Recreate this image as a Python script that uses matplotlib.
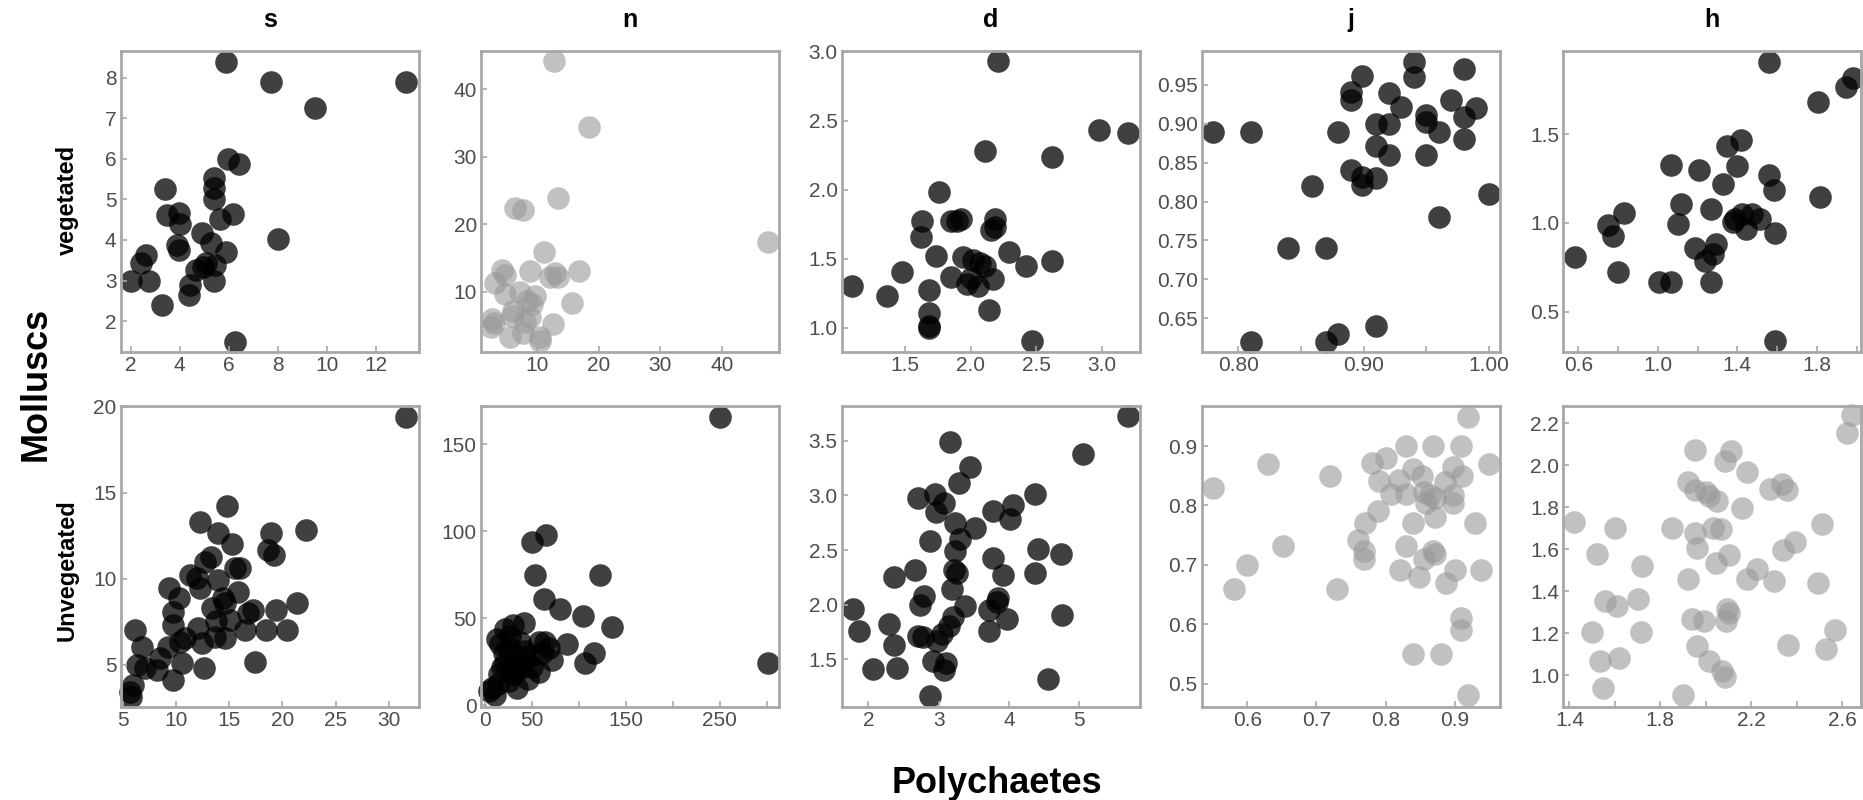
import matplotlib.pyplot as plt

plt.rcParams['font.family'] = ['Liberation Sans', 'DejaVu Sans']

titles = ["s", "n", "d", "j", "h"]
rows = ["vegetated", "Unvegetated"]

# ---- vegetated row ----
s_veg_x = [5.88, 7.74, 13.23, 9.52, 5.98, 6.41, 3.40, 5.39, 5.39, 5.39, 3.49, 3.98, 4.01, 6.18, 5.64, 4.89, 5.26,
           3.87, 3.98, 8.01, 5.88, 2.62, 2.41, 2.00, 2.76, 3.26, 4.42, 4.37, 4.66, 4.96, 5.09, 5.39, 5.43, 6.25]
s_veg_y = [8.39, 7.88, 7.88, 7.25, 6.00, 5.88, 5.25, 5.52, 5.27, 5.00, 4.62, 4.66, 4.39, 4.64, 4.51, 4.16, 3.92,
           3.88, 3.75, 4.02, 3.71, 3.63, 3.43, 3.00, 3.00, 2.40, 2.89, 2.65, 3.26, 3.33, 3.43, 3.00, 3.39, 1.50]

n_veg_x = [12.8, 18.5, 13.5, 6.5, 7.7, 47.4, 11.2, 4.4, 4.9, 8.9, 16.8, 13.0, 12.2, 13.5, 3.2, 4.8, 7.3,
           9.7, 8.4, 9.2, 6.2, 15.7, 2.7, 3.0, 6.0, 8.9, 8.1, 12.7, 5.7, 10.5, 10.5, 2.6, 7.8]
n_veg_y = [44.1, 34.4, 23.9, 22.4, 22.1, 17.3, 15.9, 13.2, 12.4, 13.1, 13.1, 12.7, 12.1, 12.1, 11.3, 9.6, 9.9,
           9.4, 8.6, 8.1, 7.1, 8.3, 6.0, 5.4, 6.4, 6.2, 5.5, 5.2, 3.2, 3.2, 2.7, 4.7, 3.9]

d_veg_x = [2.21, 2.98, 3.20, 2.11, 2.62, 1.76, 1.63, 1.62, 1.85, 1.93, 1.90, 2.19, 2.16, 2.19, 1.74, 2.29, 1.94, 2.02,
           2.07, 2.11, 2.42, 2.62, 1.48, 1.10, 1.36, 1.85, 1.97, 2.00, 2.17, 2.06, 1.68, 1.68, 1.68, 1.68, 2.14, 2.47]
d_veg_y = [2.93, 2.43, 2.41, 2.28, 2.24, 1.98, 1.77, 1.66, 1.77, 1.79, 1.77, 1.79, 1.71, 1.73, 1.52, 1.55, 1.51, 1.49,
           1.47, 1.45, 1.45, 1.48, 1.40, 1.30, 1.23, 1.37, 1.32, 1.36, 1.35, 1.30, 1.27, 1.11, 1.01, 0.995, 1.13, 0.90]

j_veg_x = [0.780, 0.810, 0.940, 0.940, 0.980, 0.899, 0.890, 0.890, 0.920, 0.930, 0.970, 0.990, 0.980, 0.950, 0.950,
           0.960, 0.910, 0.920, 0.880, 0.910, 0.920, 0.950, 0.980, 0.890, 0.899, 0.899, 0.910, 0.859, 1.000, 0.960,
           0.840, 0.870, 0.810, 0.870, 0.880, 0.910]
j_veg_y = [0.890, 0.890, 0.980, 0.960, 0.970, 0.961, 0.941, 0.931, 0.940, 0.921, 0.930, 0.920, 0.909, 0.911, 0.902,
           0.890, 0.900, 0.900, 0.890, 0.871, 0.860, 0.860, 0.880, 0.841, 0.832, 0.821, 0.830, 0.820, 0.810, 0.780,
           0.740, 0.740, 0.620, 0.620, 0.630, 0.640]

h_veg_x = [1.558, 1.981, 1.947, 1.808, 1.417, 1.346, 1.397, 1.066, 1.207, 1.558, 1.583, 1.329, 1.817, 1.117, 1.269,
           0.829, 0.747, 0.773, 1.100, 1.388, 1.422, 1.473, 1.515, 1.444, 1.592, 1.380, 0.583, 0.798, 1.188, 1.239,
           1.292, 1.278, 1.007, 1.066, 1.269, 1.592]
h_veg_y = [1.904, 1.814, 1.764, 1.678, 1.468, 1.431, 1.319, 1.328, 1.300, 1.268, 1.188, 1.220, 1.147, 1.109, 1.079,
           1.057, 0.991, 0.926, 0.996, 1.020, 1.053, 1.048, 1.020, 0.964, 0.941, 1.007, 0.808, 0.726, 0.861, 0.786,
           0.879, 0.823, 0.668, 0.668, 0.668, 0.337]

# ---- unvegetated row ----
s_unv_x = [31.6, 14.84, 12.25, 13.97, 15.22, 18.97, 22.19, 18.66, 19.22, 13.25, 12.72, 11.31, 11.94, 12.25, 16.0,
           15.53, 13.97, 9.34, 10.31, 15.84, 14.44, 14.59, 13.34, 9.75, 17.25, 16.78, 19.44, 21.38, 13.75, 15.06,
           9.75, 12.09, 16.47, 18.5, 20.47, 6.16, 10.84, 10.38, 12.41, 13.66, 14.59, 6.78, 9.28, 8.5, 10.53, 17.41,
           6.31, 7.09, 8.19, 12.63, 9.75, 5.94, 5.69, 5.75]
s_unv_y = [19.42, 14.22, 13.28, 12.67, 12.0, 12.67, 12.83, 11.67, 11.38, 11.28, 10.99, 10.21, 10.02, 9.44, 10.6,
           10.6, 9.92, 9.44, 8.86, 9.24, 8.86, 8.57, 8.28, 8.08, 8.18, 7.98, 8.18, 8.6, 7.54, 7.6,
           7.31, 7.11, 7.02, 7.02, 7.02, 7.02, 6.53, 6.34, 6.24, 6.63, 6.53, 6.05, 6.05, 5.37, 5.08, 5.17,
           4.98, 4.79, 4.69, 4.79, 4.11, 3.82, 3.43, 3.14]

n_unv_x = [250, 65, 50, 53, 122, 63, 80, 104, 135, 42, 30, 21, 87, 116, 106, 301, 71, 64, 57, 68, 13, 16, 27, 37,
           43, 32, 21, 18, 39, 50, 57, 46, 34, 25, 7, 4, 11, 14, 30, 61, 43, 20, 28, 35, 15, 48, 25]
n_unv_y = [166, 98, 94, 75, 75, 61, 55, 51, 45, 47, 46, 44, 35, 30, 24, 24, 26, 36, 36, 33, 38, 35, 40, 36,
           31, 29, 24, 22, 23, 22, 19, 15, 10, 14, 10, 8, 6, 12, 18, 30, 26, 30, 22, 20, 18, 28, 33]

d_unv_x = [5.70, 5.05, 3.16, 3.44, 3.29, 2.71, 2.95, 3.08, 2.96, 3.77, 4.37, 4.06, 4.01, 3.52, 3.23, 3.30, 2.87, 3.23,
           4.41, 4.74, 3.77, 4.37, 3.92, 3.22, 3.26, 2.66, 2.36, 3.19, 2.79, 2.73, 3.37, 3.85, 3.83, 3.71, 3.97, 1.78,
           3.21, 3.15, 4.76, 1.86, 2.30, 3.71, 2.71, 2.78, 3.04, 2.98, 2.36, 2.92, 3.11, 3.08, 2.06, 2.40, 4.56, 2.87]
d_unv_y = [3.73, 3.38, 3.49, 3.26, 3.11, 2.98, 3.01, 2.93, 2.85, 2.86, 3.01, 2.91, 2.78, 2.70, 2.75, 2.60, 2.58, 2.49,
           2.51, 2.46, 2.43, 2.29, 2.27, 2.32, 2.29, 2.32, 2.25, 2.14, 2.08, 2.00, 1.99, 2.06, 2.02, 1.95, 1.87, 1.96,
           1.89, 1.80, 1.90, 1.76, 1.82, 1.76, 1.71, 1.70, 1.73, 1.67, 1.63, 1.48, 1.46, 1.40, 1.41, 1.42, 1.32, 1.16]

j_unv_x = [0.551, 0.630, 0.581, 0.600, 0.651, 0.719, 0.730, 0.919, 0.830, 0.869, 0.909, 0.949, 0.800, 0.780, 0.791,
           0.820, 0.840, 0.852, 0.808, 0.830, 0.855, 0.864, 0.858, 0.898, 0.910, 0.886, 0.898, 0.898, 0.872, 0.789,
           0.871, 0.840, 0.929, 0.770, 0.760, 0.769, 0.769, 0.830, 0.855, 0.869, 0.871, 0.821, 0.848, 0.888, 0.900,
           0.938, 0.909, 0.909, 0.840, 0.880, 0.919]
j_unv_y = [0.830, 0.870, 0.660, 0.700, 0.731, 0.850, 0.660, 0.949, 0.900, 0.900, 0.900, 0.870, 0.880, 0.871, 0.841,
           0.843, 0.861, 0.849, 0.819, 0.819, 0.822, 0.818, 0.804, 0.864, 0.849, 0.839, 0.818, 0.804, 0.812, 0.790,
           0.780, 0.770, 0.770, 0.770, 0.741, 0.724, 0.709, 0.731, 0.710, 0.723, 0.718, 0.691, 0.679, 0.670, 0.692,
           0.691, 0.611, 0.591, 0.550, 0.550, 0.481]

h_unv_x = [2.644, 2.622, 1.953, 2.112, 2.083, 2.179, 1.920, 2.282, 2.334, 2.356, 1.954, 1.999, 2.016, 2.050, 2.161,
           1.418, 1.602, 1.851, 1.953, 2.031, 2.065, 2.511, 1.962, 2.393, 2.338, 1.521, 2.102, 2.043, 1.718, 2.223,
           2.182, 1.920, 2.301, 2.492, 1.558, 1.610, 1.703, 2.095, 2.102, 2.090, 1.939, 1.991, 1.499, 1.713, 2.570,
           2.363, 1.962, 2.530, 1.536, 1.620, 2.016, 2.072, 2.083, 1.548, 1.901]
h_unv_y = [2.240, 2.153, 2.073, 2.070, 2.023, 1.966, 1.923, 1.888, 1.910, 1.883, 1.883, 1.875, 1.852, 1.828, 1.799,
           1.728, 1.701, 1.701, 1.678, 1.704, 1.698, 1.720, 1.606, 1.635, 1.598, 1.578, 1.572, 1.535, 1.519, 1.508,
           1.461, 1.461, 1.451, 1.440, 1.356, 1.329, 1.366, 1.317, 1.298, 1.261, 1.269, 1.258, 1.207, 1.207, 1.218,
           1.147, 1.139, 1.128, 1.068, 1.084, 1.068, 1.021, 0.992, 0.938, 0.905]

# axis ticks and their labels, per panel
xticks = [
    ([2, 4, 6, 8, 10, 12], ["2", "4", "6", "8", "10", "12"]),
    ([10, 20, 30, 40], ["10", "20", "30", "40"]),
    ([1.5, 2.0, 2.5, 3.0], ["1.5", "2.0", "2.5", "3.0"]),
    ([0.80, 0.85, 0.90, 0.95, 1.00], ["0.80", "", "0.90", "", "1.00"]),
    ([0.6, 0.8, 1.0, 1.2, 1.4, 1.6, 1.8, 2.0], ["0.6", "", "1.0", "", "1.4", "", "1.8", ""]),
    ([5, 10, 15, 20, 25, 30], ["5", "10", "15", "20", "25", "30"]),
    ([0, 50, 100, 150, 200, 250, 300], ["0", "50", "", "150", "", "250", ""]),
    ([2, 3, 4, 5], ["2", "3", "4", "5"]),
    ([0.6, 0.7, 0.8, 0.9], ["0.6", "0.7", "0.8", "0.9"]),
    ([1.4, 1.6, 1.8, 2.0, 2.2, 2.4, 2.6], ["1.4", "", "1.8", "", "2.2", "", "2.6"]),
]
yticks = [
    ([2, 3, 4, 5, 6, 7, 8], ["2", "3", "4", "5", "6", "7", "8"]),
    ([10, 20, 30, 40], ["10", "20", "30", "40"]),
    ([1.0, 1.5, 2.0, 2.5, 3.0], ["1.0", "1.5", "2.0", "2.5", "3.0"]),
    ([0.65, 0.70, 0.75, 0.80, 0.85, 0.90, 0.95], ["0.65", "0.70", "0.75", "0.80", "0.85", "0.90", "0.95"]),
    ([0.5, 1.0, 1.5], ["0.5", "1.0", "1.5"]),
    ([5, 10, 15, 20], ["5", "10", "15", "20"]),
    ([0, 50, 100, 150], ["0", "50", "100", "150"]),
    ([1.5, 2.0, 2.5, 3.0, 3.5], ["1.5", "2.0", "2.5", "3.0", "3.5"]),
    ([0.5, 0.6, 0.7, 0.8, 0.9], ["0.5", "0.6", "0.7", "0.8", "0.9"]),
    ([1.0, 1.2, 1.4, 1.6, 1.8, 2.0, 2.2], ["1.0", "1.2", "1.4", "1.6", "1.8", "2.0", "2.2"]),
]

panels = [
    (s_veg_x, s_veg_y, "dark", (1.59, 13.75), (1.25, 8.66)),
    (n_veg_x, n_veg_y, "light", (0.97, 49.2), (1.08, 45.7)),
    (d_veg_x, d_veg_y, "dark", (1.018, 3.29), (0.826, 3.007)),
    (j_veg_x, j_veg_y, "dark", (0.7707, 1.0088), (0.607, 0.994)),
    (h_veg_x, h_veg_y, "dark", (0.524, 2.024), (0.276, 1.969)),
    (s_unv_x, s_unv_y, "dark", (4.81, 32.8), (2.56, 20.06)),
    (n_unv_x, n_unv_y, "dark", (-4.3, 313), (-0.96, 172.3)),
    (d_unv_x, d_unv_y, "dark", (1.62, 5.86), (1.064, 3.823)),
    (j_unv_x, j_unv_y, "light", (0.534, 0.965), (0.461, 0.968)),
    (h_unv_x, h_unv_y, "light", (1.373, 2.684), (0.851, 2.284)),
]
styles = {"dark": ("black", 0.75), "light": ("#999999", 0.6)}

W, H = 1863, 800
fig = plt.figure(figsize=(W / 100, H / 100), dpi=100)

lefts = [120.7, 481, 841.7, 1201.7, 1563.3]
tops = [50.7, 405.7]
pw, ph = 298, 301
frame = "#a8a8a8"

for i, (x, y, kind, xl, yl) in enumerate(panels):
    r, c = divmod(i, 5)
    ax = fig.add_axes([lefts[c] / W, 1 - (tops[r] + ph) / H, pw / W, ph / H])
    col, a = styles[kind]
    ax.scatter(x, y, s=265, c=col, alpha=a, linewidths=0, clip_on=False)
    ax.set_xlim(*xl)
    ax.set_ylim(*yl)
    ax.set_xticks(xticks[i][0], xticks[i][1])
    ax.set_yticks(yticks[i][0], yticks[i][1])
    for sp in ax.spines.values():
        sp.set_color(frame)
        sp.set_linewidth(2)
    ax.tick_params(direction="in", length=4, width=1.2, color=frame, labelcolor="#4d4d4d",
                   labelsize=15, top=False, right=False, pad=3)
    if r == 0:
        ax.text(0.5, 1.079, titles[c], transform=ax.transAxes, ha="center", va="baseline",
                fontsize=18, fontweight="bold")

# row labels (strip on the left)
row_y = [200, 570]
for r, name in enumerate(rows):
    fig.text(67 / W, 1 - row_y[r] / H, name, rotation=90, ha="center", va="center",
             fontsize=17, fontweight="bold")

fig.text(36 / W, 0.52, "Molluscs", rotation=90, ha="center", va="center", fontsize=26, fontweight="bold")
fig.text(997 / W, 0.009, "Polychaetes", ha="center", va="baseline", fontsize=26, fontweight="bold")

fig.savefig("out.png", dpi=100)
